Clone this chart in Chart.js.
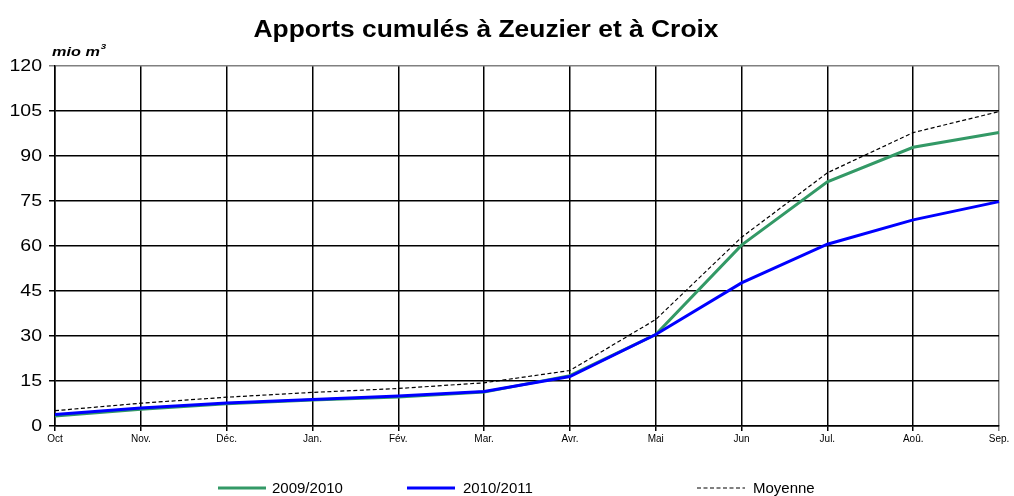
<!DOCTYPE html>
<html>
<head>
<meta charset="utf-8">
<script src="https://cdn.jsdelivr.net/npm/chart.js@4/dist/chart.umd.min.js"></script>
<style>
html,body{margin:0;padding:0;background:#fff;}
#wrap{width:1014px;height:496px;position:relative;}
</style>
</head>
<body>
<div id="wrap"><canvas id="c" width="1014" height="496"></canvas></div>
<script>
const categories = ["Oct", "Nov.", "Déc.", "Jan.", "Fév.", "Mar.", "Avr.", "Mai", "Jun", "Jul.", "Aoû.", "Sep."];
const series2009 = [3.3, 5.6, 7.4, 8.7, 9.7, 11.3, 16.8, 30.5, 60.3, 81.4, 92.9, 97.8];
const series2010 = [3.8, 6.0, 7.7, 8.8, 10.0, 11.5, 16.5, 30.5, 47.7, 60.6, 68.7, 74.8];
const seriesMoy = [5.1, 7.6, 9.6, 11.2, 12.5, 14.4, 18.5, 35.5, 62.9, 84.4, 97.8, 104.8];
const yTicks = [0, 15, 30, 45, 60, 75, 90, 105, 120];
const titleText = "Apports cumulés à Zeuzier et à Croix";
const unitText = "mio m";
const unitSup = "3";
const legendNames = ["2009/2010", "2010/2011", "Moyenne"];

const FONT = "Arial, 'Liberation Sans', sans-serif";

function stretchText(ctx, text, x, y, align, font, sx) {
  ctx.save();
  ctx.font = font;
  ctx.textAlign = align;
  ctx.translate(x, y);
  ctx.scale(sx, 1);
  ctx.fillText(text, 0, 0);
  ctx.restore();
}

const extras = {
  id: 'extras',
  afterDraw(chart) {
    const ctx = chart.ctx;
    ctx.save();
    ctx.fillStyle = '#000';
    // title
    ctx.textBaseline = 'middle';
    stretchText(ctx, titleText, 486, 30, 'center', "bold 24px " + FONT, 1.1);
    // y tick labels via the library's y scale
    const ys = chart.scales.y;
    ys.ticks.forEach(t => {
      stretchText(ctx, String(t.value), 42, ys.getPixelForValue(t.value) + 1, 'right', "16px " + FONT, 1.22);
    });
    // unit
    ctx.textBaseline = 'alphabetic';
    const uf = "italic bold 13px " + FONT;
    stretchText(ctx, unitText, 52, 56, 'left', uf, 1.25);
    ctx.font = uf;
    const w = ctx.measureText(unitText).width * 1.25;
    stretchText(ctx, unitSup, 52 + w + 1, 49, 'left', "italic bold 8px " + FONT, 1.2);
    // legend
    const items = [
      {x: 218, color: 'rgb(51,153,102)', width: 3, dash: [], text: legendNames[0], tx: 272},
      {x: 407, color: '#0000ff', width: 3, dash: [], text: legendNames[1], tx: 463},
      {x: 697, color: '#000', width: 1.2, dash: [4, 2.5], text: legendNames[2], tx: 753}
    ];
    items.forEach(it => {
      ctx.beginPath();
      ctx.strokeStyle = it.color;
      ctx.lineWidth = it.width;
      ctx.setLineDash(it.dash);
      ctx.moveTo(it.x, 488);
      ctx.lineTo(it.x + 48, 488);
      ctx.stroke();
      ctx.setLineDash([]);
      ctx.textBaseline = 'middle';
      stretchText(ctx, it.text, it.tx, 489, 'left', "15px " + FONT, 1.0);
    });
    ctx.restore();
  }
};

new Chart(document.getElementById('c'), {
  type: 'line',
  data: {
    labels: categories,
    datasets: [
      {label: legendNames[0], data: series2009, borderColor: 'rgb(51,153,102)', borderWidth: 3, pointRadius: 0, tension: 0, fill: false, order: 2},
      {label: legendNames[1], data: series2010, borderColor: '#0000ff', borderWidth: 3, pointRadius: 0, tension: 0, fill: false, order: 1},
      {label: legendNames[2], data: seriesMoy, borderColor: '#000', borderWidth: 1.2, borderDash: [4, 2.5], pointRadius: 0, tension: 0, fill: false, order: 0}
    ]
  },
  options: {
    responsive: false,
    animation: false,
    layout: {padding: {top: 66, right: 15, left: 0, bottom: 0}},
    plugins: {legend: {display: false}, title: {display: false}, tooltip: {enabled: false}},
    scales: {
      x: {
        offset: false,
        afterFit(s) { s.height = 70; },
        grid: {
          color: ctx => (ctx.index === categories.length - 1 ? '#808080' : '#000'),
          lineWidth: 1.5,
          tickLength: 5,
          drawTicks: true
        },
        border: {color: '#000', width: 1.5},
        ticks: {color: '#000', font: {family: FONT, size: 10}, maxRotation: 0, autoSkip: false, padding: 2}
      },
      y: {
        min: 0, max: 120,
        afterFit(s) { s.width = 55; },
        afterBuildTicks(s) { s.ticks = yTicks.map(v => ({value: v})); },
        grid: {
          color: ctx => (ctx.tick && ctx.tick.value === 120 ? '#808080' : '#000'),
          lineWidth: 1.5,
          tickLength: 6
        },
        border: {color: '#000', width: 1.5},
        ticks: {color: 'rgba(0,0,0,0)', font: {family: FONT, size: 15}, padding: 7}
      }
    }
  },
  plugins: [extras]
});
</script>
</body>
</html>
